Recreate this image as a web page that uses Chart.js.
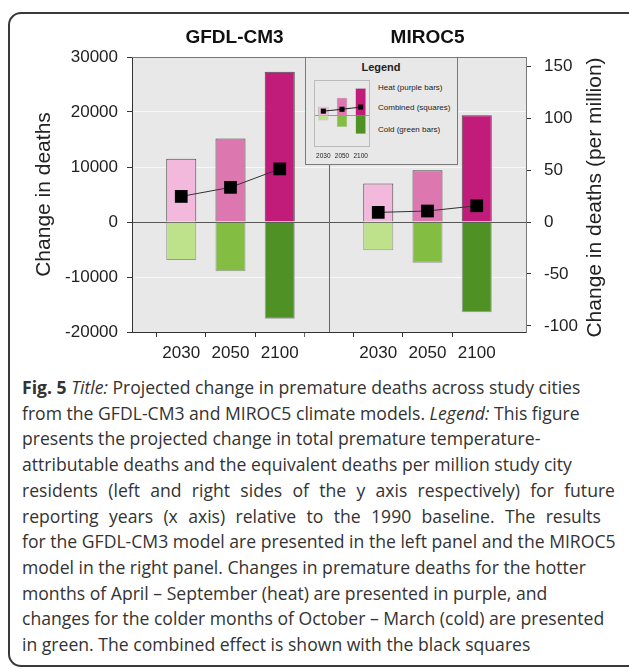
<!DOCTYPE html>
<html>
<head>
<meta charset="utf-8">
<script src="https://cdn.jsdelivr.net/npm/chart.js@4.4.0/dist/chart.umd.min.js"></script>
<style>
  html, body { margin: 0; padding: 0; background: #fff; }
  body { width: 629px; height: 671px; position: relative; overflow: hidden; }
  #frame { position: absolute; left: 8px; top: 12px; width: 660px; height: 655px; border: 2px solid #3a3a3a; border-radius: 13px; box-sizing: border-box; }
  #main { position: absolute; left: 0; top: 0; }
  #legend { position: absolute; left: 305px; top: 57px; width: 153px; height: 108px; background: #e8e8e8; border: 1px solid #7a7a7a; box-sizing: border-box; font-family: "Liberation Sans", Arial, sans-serif; color: #222; }
  #legend .ttl { position: absolute; left: 0; width: 150px; text-align: center; top: 3px; font-weight: bold; font-size: 11px; line-height: 12px; }
  #legend .lbl { position: absolute; left: 72px; font-size: 8px; line-height: 10px; white-space: nowrap; }
  #mini { position: absolute; left: 4px; top: 18px; }
  #caption { position: absolute; left: 22px; top: 375px; width: 593px; font-family: "Open Sans", sans-serif; font-size: 17.6px; line-height: 25.7px; color: #333; }
  #caption div { white-space: nowrap; }
  #caption div.j { text-align: justify; text-align-last: justify; }
</style>
</head>
<body>
<div id="frame"></div>
<canvas id="main" width="629" height="372"></canvas>
<div id="legend">
  <div class="ttl">Legend</div>
  <div class="lbl" style="top:25px">Heat (purple bars)</div>
  <div class="lbl" style="top:45px">Combined (squares)</div>
  <div class="lbl" style="top:67px">Cold (green bars)</div>
  <canvas id="mini" width="64" height="86"></canvas>
</div>
<div id="caption">
  <div><b>Fig. 5</b> <i>Title:</i> Projected change in premature deaths across study cities</div>
  <div>from the GFDL-CM3 and MIROC5 climate models. <i>Legend:</i> This figure</div>
  <div>presents the projected change in total premature temperature-</div>
  <div>attributable deaths and the equivalent deaths per million study city</div>
  <div class="j">residents (left and right sides of the y axis respectively) for future</div>
  <div class="j" style="width:579px">reporting years (x axis) relative to the 1990 baseline. The results</div>
  <div class="j">for the GFDL-CM3 model are presented in the left panel and the MIROC5</div>
  <div>model in the right panel. Changes in premature deaths for the hotter</div>
  <div>months of April – September (heat) are presented in purple, and</div>
  <div>changes for the colder months of October – March (cold) are presented</div>
  <div>in green. The combined effect is shown with the black squares</div>
</div>
<script>
const years = ["2030", "2050", "2100"];
const panelTitles = ["GFDL-CM3", "MIROC5"];

// change in deaths
const gfdlHeat = [11500, 15200, 27300];
const gfdlCold = [-6900, -8950, -17600];
const gfdlCombined = [4650, 6300, 9650];
const mirocHeat = [7000, 9400, 19400];
const mirocCold = [-5150, -7400, -16400];
const mirocCombined = [1750, 2000, 2950];

const leftTicks = [-20000, -10000, 0, 10000, 20000, 30000];
const rightTicks = [-100, -50, 0, 50, 100, 150];
const deathsPerMillionUnit = 189;

// little sample chart inside the legend box
const legendHeat = [9, 18.5, 28.5];
const legendCold = [-5.5, -12.5, -20];
const legendCombined = [4.3, 6.3, 8.6];

const heatColors = ["#f2b9dd", "#dc78af", "#c21c7b"];
const coldColors = ["#bde28b", "#83bd42", "#4f9124"];
const FONT = "'Liberation Sans', Arial, sans-serif";

const both = (a, b) => [null, ...a, null, ...b, null];
const xLabels = ["", ...years, "", ...years, ""];
const plain = (v) => String(v);

const panelDecor = {
  id: "panelDecor",
  beforeDraw(chart) {
    const { ctx, chartArea: a } = chart;
    ctx.save();
    ctx.fillStyle = "#e8e8e8";
    ctx.fillRect(a.left, a.top, a.right - a.left, a.bottom - a.top);
    ctx.restore();
  },
  beforeDatasetsDraw(chart) {
    const { ctx, chartArea: a, scales } = chart;
    const xd = Math.round(scales.x.getPixelForValue(4)) + 0.5;
    ctx.save();
    ctx.strokeStyle = "#666";
    ctx.lineWidth = 1;
    ctx.beginPath();
    ctx.moveTo(xd, a.top);
    ctx.lineTo(xd, a.bottom);
    ctx.stroke();
    ctx.restore();
  },
  afterDraw(chart) {
    const { ctx, chartArea: a, scales } = chart;
    ctx.save();
    // top border of plot
    ctx.strokeStyle = "#777";
    ctx.lineWidth = 1;
    ctx.beginPath();
    ctx.moveTo(a.left, Math.round(a.top) + 0.5);
    ctx.lineTo(a.right, Math.round(a.top) + 0.5);
    ctx.stroke();
    // panel titles
    ctx.fillStyle = "#111";
    ctx.font = "bold 19px " + FONT;
    ctx.textAlign = "center";
    ctx.textBaseline = "middle";
    ctx.fillText(panelTitles[0], scales.x.getPixelForValue(2) + 4, 38);
    ctx.fillText(panelTitles[1], scales.x.getPixelForValue(6), 38);
    // right axis title, reading upwards like the left one
    ctx.font = "21px " + FONT;
    ctx.fillStyle = "#222";
    ctx.translate(scales.y2.right - 34, (a.top + a.bottom) / 2 + 3);
    ctx.rotate(-Math.PI / 2);
    ctx.fillText("Change in deaths (per million)", 0, 0);
    ctx.restore();
  }
};

new Chart(document.getElementById("main"), {
  data: {
    labels: xLabels,
    datasets: [
      {
        type: "line",
        label: "Combined (squares)",
        data: both(gfdlCombined, mirocCombined),
        order: 0,
        stack: "combined",
        borderColor: "#333",
        borderWidth: 1,
        pointStyle: "rect",
        pointRadius: 9,
        pointBorderWidth: 0,
        pointBackgroundColor: "#000",
        spanGaps: false
      },
      {
        type: "bar",
        label: "Heat (purple bars)",
        data: both(gfdlHeat, mirocHeat),
        order: 1,
        stack: "deaths",
        backgroundColor: both(heatColors, heatColors),
        borderColor: "#4a4a4a",
        borderWidth: 1,
        barPercentage: 0.61,
        categoryPercentage: 1
      },
      {
        type: "bar",
        label: "Cold (green bars)",
        data: both(gfdlCold, mirocCold),
        order: 1,
        stack: "deaths",
        backgroundColor: both(coldColors, coldColors),
        borderColor: "#999",
        borderWidth: 1,
        barPercentage: 0.61,
        categoryPercentage: 1
      }
    ]
  },
  options: {
    responsive: false,
    animation: false,
    layout: { padding: { top: 57, left: 0, right: 0, bottom: 0 } },
    plugins: { legend: { display: false }, tooltip: { enabled: false } },
    scales: {
      x: {
        type: "category",
        offset: false,
        stacked: true,
        grid: {
          drawOnChartArea: false,
          tickLength: 5,
          tickColor: (c) => (c.index === 0 || c.index === 8 ? "rgba(0,0,0,0)" : c.index === 4 ? "#666" : "#333")
        },
        border: { color: "#333" },
        ticks: { autoSkip: false, maxRotation: 0, padding: 6, color: "#222", font: { family: FONT, size: 17 } },
        afterFit: (s) => { s.height = 40; }
      },
      y: {
        position: "left",
        stacked: true,
        min: -20000,
        max: 30000,
        afterBuildTicks: (s) => { s.ticks = leftTicks.map((v) => ({ value: v })); },
        grid: {
          color: (c) => (c.tick && c.tick.value === 0 ? "#555" : "#f7f7f7"),
          tickColor: "#333",
          tickLength: 5
        },
        border: { color: "#333" },
        ticks: { padding: 9, color: "#222", font: { family: FONT, size: 17 }, callback: plain },
        title: { display: true, text: "Change in deaths", color: "#222", font: { family: FONT, size: 21 }, padding: { top: 32, bottom: 0 } },
        afterFit: (s) => { s.width = 132; }
      },
      y2: {
        position: "right",
        min: -20000 / deathsPerMillionUnit,
        max: 30000 / deathsPerMillionUnit,
        afterBuildTicks: (s) => { s.ticks = rightTicks.map((v) => ({ value: v })); },
        grid: { drawOnChartArea: false, tickColor: "#333", tickLength: 5 },
        border: { color: "#777" },
        ticks: { padding: 13, color: "#222", font: { family: FONT, size: 17 }, callback: plain },
        afterFit: (s) => { s.width = 103; }
      }
    }
  },
  plugins: [panelDecor]
});

const miniDecor = {
  id: "miniDecor",
  beforeDraw(chart) {
    const { ctx, chartArea: a, scales } = chart;
    const y0 = Math.round(scales.y.getPixelForValue(0)) + 0.5;
    ctx.save();
    ctx.strokeStyle = "#999";
    ctx.lineWidth = 1;
    ctx.beginPath();
    ctx.moveTo(a.left, y0);
    ctx.lineTo(a.right, y0);
    ctx.stroke();
    ctx.restore();
  },
  afterDraw(chart) {
    const { ctx, chartArea: a } = chart;
    ctx.save();
    ctx.strokeStyle = "#bbb";
    ctx.lineWidth = 1;
    ctx.strokeRect(a.left + 0.5, a.top + 0.5, a.right - a.left - 1, a.bottom - a.top - 1);
    ctx.restore();
  }
};

new Chart(document.getElementById("mini"), {
  data: {
    labels: years,
    datasets: [
      { type: "line", data: legendCombined, order: 0, borderColor: "#222", borderWidth: 1, pointStyle: "rect", pointRadius: 3.6, pointBorderWidth: 0, pointBackgroundColor: "#000" },
      { type: "bar", data: legendHeat, order: 1, stack: "s", backgroundColor: heatColors, borderColor: "#888", borderWidth: 0.5, barPercentage: 0.56, categoryPercentage: 1 },
      { type: "bar", data: legendCold, order: 1, stack: "s", backgroundColor: coldColors, borderColor: "#bbb", borderWidth: 0.5, barPercentage: 0.56, categoryPercentage: 1 }
    ]
  },
  options: {
    responsive: false,
    animation: false,
    layout: { padding: 0 },
    plugins: { legend: { display: false }, tooltip: { enabled: false } },
    scales: {
      x: {
        stacked: true,
        grid: { display: false, drawTicks: false },
        border: { display: false },
        ticks: { padding: 5, color: "#222", maxRotation: 0, autoSkip: false, font: { family: FONT, size: 6.5 } },
        afterFit: (s) => { s.height = 15; }
      },
      y: { display: false, stacked: true, min: -33.7, max: 37.3 }
    }
  },
  plugins: [miniDecor]
});
</script>
</body>
</html>
